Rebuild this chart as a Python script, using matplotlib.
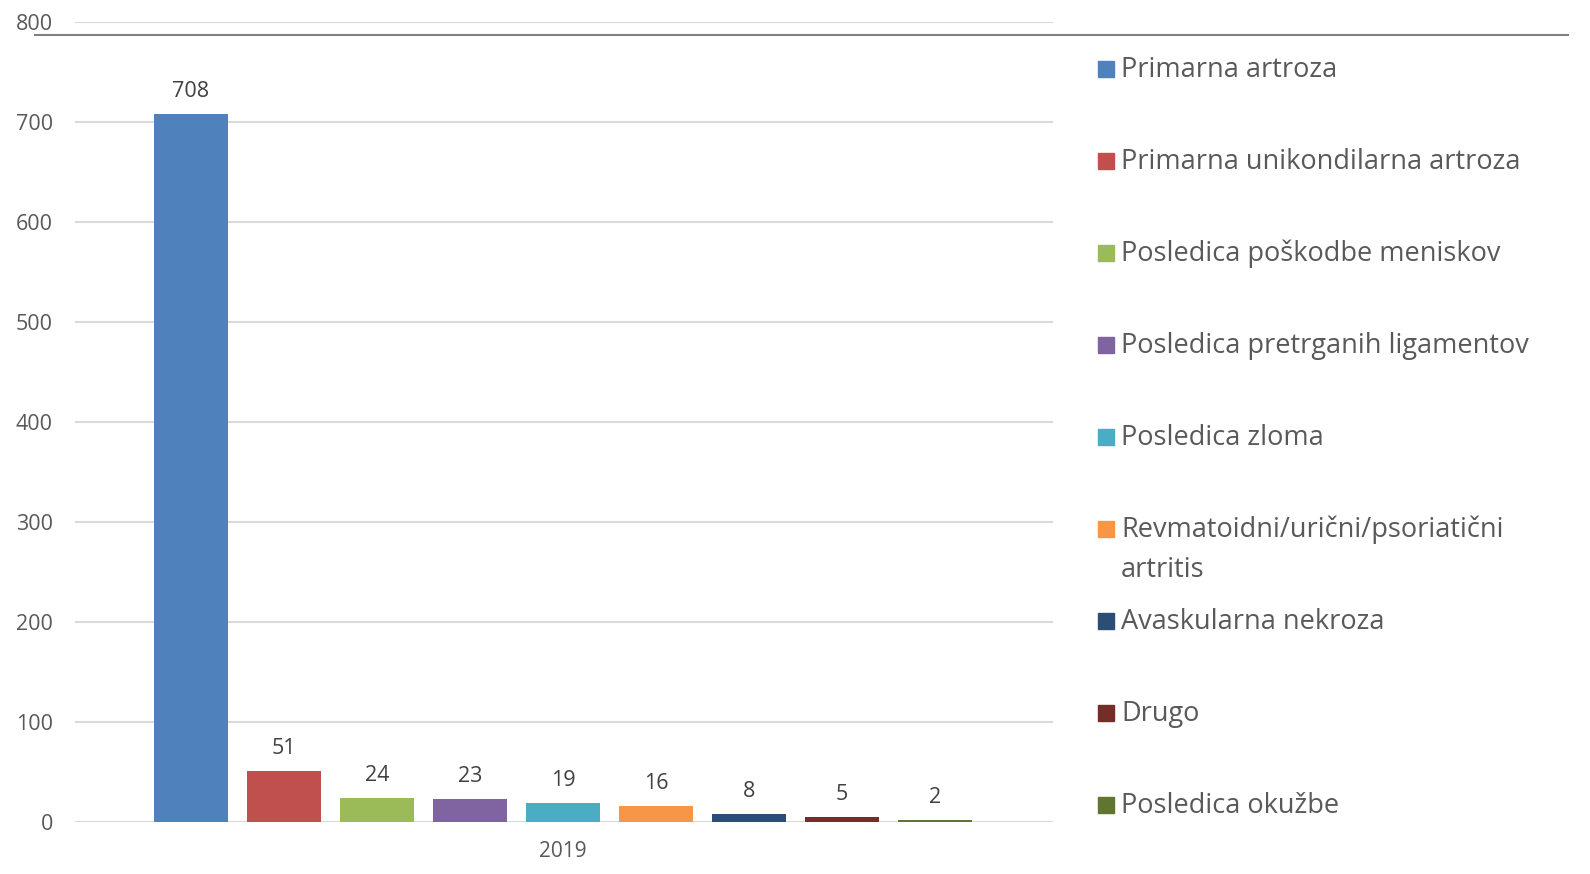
import matplotlib
matplotlib.use("Agg")
import matplotlib.pyplot as plt
from matplotlib.lines import Line2D
from matplotlib.patches import Rectangle

categories = [
    "Primarna artroza",
    "Primarna unikondilarna artroza",
    "Posledica poškodbe meniskov",
    "Posledica pretrganih ligamentov",
    "Posledica zloma",
    "Revmatoidni/urični/psoriatični\nartritis",
    "Avaskularna nekroza",
    "Drugo",
    "Posledica okužbe",
]
values = [708, 51, 24, 23, 19, 16, 8, 5, 2]
colors = ["#4F81BD", "#C0504D", "#9BBB59", "#8064A2", "#4BACC6",
          "#F79646", "#2C4D75", "#772C2A", "#5F7530"]
group_label = "2019"
yticks = [0, 100, 200, 300, 400, 500, 600, 700, 800]

plt.rcParams['font.family'] = ['Open Sans', 'DejaVu Sans']

W, H = 1590, 874
fig = plt.figure(figsize=(W / 100, H / 100), dpi=100)
ax = fig.add_axes([75 / W, 1 - 822 / H, (1053 - 75) / W, (822 - 22) / H])

x = list(range(len(values)))
ax.bar(x, values, width=0.796, color=colors, zorder=3)
for xi, v in zip(x, values):
    ax.annotate(str(v), (xi, v), xytext=(0, 16), textcoords="offset points",
                ha="center", va="center", fontsize=15.5, color="#404040")

ax.set_xlim(-1.247, 9.27)
ax.set_ylim(0, 800)
ax.set_yticks(yticks)
ax.set_yticklabels([str(t) for t in yticks], fontsize=15.5, color="#595959")
ax.set_xticks([(len(values) - 1) / 2])
ax.set_xticklabels([group_label], fontsize=15, color="#595959")
ax.tick_params(axis="both", length=0)
ax.tick_params(axis="x", pad=14)
ax.tick_params(axis="y", pad=16)
ax.yaxis.grid(True, color="#D9D9D9", linewidth=1.5, zorder=0)
for s in ax.spines.values():
    s.set_visible(False)

# top horizontal rule
fig.add_artist(Line2D([35 / W, 1568 / W], [1 - 35 / H, 1 - 35 / H],
                      color="#7F7F7F", linewidth=1.5))

# legend
y0, dy = 69, 92
for i, (c, lab) in enumerate(zip(categories, colors)):
    yc = y0 + i * dy
    fig.add_artist(Rectangle((1098 / W, 1 - (yc + 8) / H), 16 / W, 16 / H,
                             color=lab, transform=fig.transFigure))
    fig.text(1121 / W, 1 - (yc - 13) / H, c, ha="left", va="top",
             fontsize=19.5, color="#595959", linespacing=1.55)

fig.savefig("out.png", dpi=100)
